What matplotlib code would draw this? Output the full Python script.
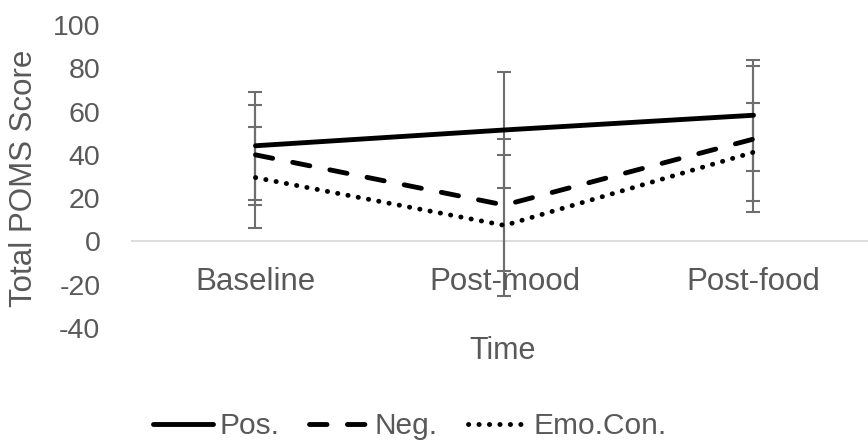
import matplotlib
matplotlib.use("Agg")
import matplotlib.pyplot as plt
import matplotlib.transforms as mtransforms

plt.rcParams['font.family'] = ['Liberation Sans', 'DejaVu Sans']
plt.rcParams['axes.unicode_minus'] = False

categories = ["Baseline", "Post-mood", "Post-food"]
pos_mean = [44.2, 51.5, 58.3]
pos_err = [25.0, 26.6, 25.6]
neg_mean = [40.0, 16.8, 47.3]
neg_err = [23.2, 30.4, 33.6]
emo_mean = [29.5, 7.4, 41.2]
emo_err = [23.5, 32.4, 22.6]
yticks = [-40, -20, 0, 20, 40, 60, 80, 100]

W, H = 868, 448
fig = plt.figure(figsize=(W / 100, H / 100), dpi=100)
left, right = 131, 878
top, bottom = 25, 328
ax = fig.add_axes([left / W, 1 - bottom / H, (right - left) / W, (bottom - top) / H])
ax.set_xlim(-0.5, 2.5)
ax.set_ylim(-40, 100)

text_col = "#595959"
err_col = "#6e6e6e"
x = list(range(len(categories)))

series = [
    ("Pos.", pos_mean, pos_err, "-"),
    ("Neg.", neg_mean, neg_err, (0, (3.6, 4.2))),
    ("Emo.Con.", emo_mean, emo_err, (0, (0.05, 2.1))),
]

ax.axhline(0, color="#d9d9d9", lw=1.3, zorder=1)

handles = []
for name, m, e, ls in series:
    ax.errorbar(x, m, yerr=e, fmt="none", ecolor=err_col, elinewidth=1.5,
                capsize=5, capthick=1.5, zorder=2)
    ln, = ax.plot(x, m, color="black", lw=3.5, linestyle=ls,
                  solid_capstyle="round", dash_capstyle="round", zorder=3,
                  label=name)
    handles.append(ln)

for s in ax.spines.values():
    s.set_visible(False)
ax.set_xticks([])
ax.set_yticks(yticks)
ax.tick_params(axis="y", length=0, pad=22, labelsize=20.5, labelcolor=text_col)

trans = mtransforms.blended_transform_factory(ax.transData, fig.transFigure)
for xi, c in zip(x, categories):
    ax.text(xi, 1 - 282 / H, c, transform=trans, ha="center", va="center",
            fontsize=22.5, color=text_col)

fig.text(503 / W, 1 - 351 / H, "Time", ha="center", va="center",
         fontsize=22, color=text_col)
fig.text(24 / W, 1 - 178 / H, "Total POMS Score", ha="center", va="center",
         rotation=90, fontsize=22.5, color=text_col)

leg = fig.legend(handles=handles, loc="center", bbox_to_anchor=(410 / W, 1 - 426 / H),
                 ncol=3, frameon=False, fontsize=21.5, handlelength=2.0,
                 handletextpad=0.2, columnspacing=1.0, labelcolor=text_col)

fig.savefig("out.png", dpi=100)
